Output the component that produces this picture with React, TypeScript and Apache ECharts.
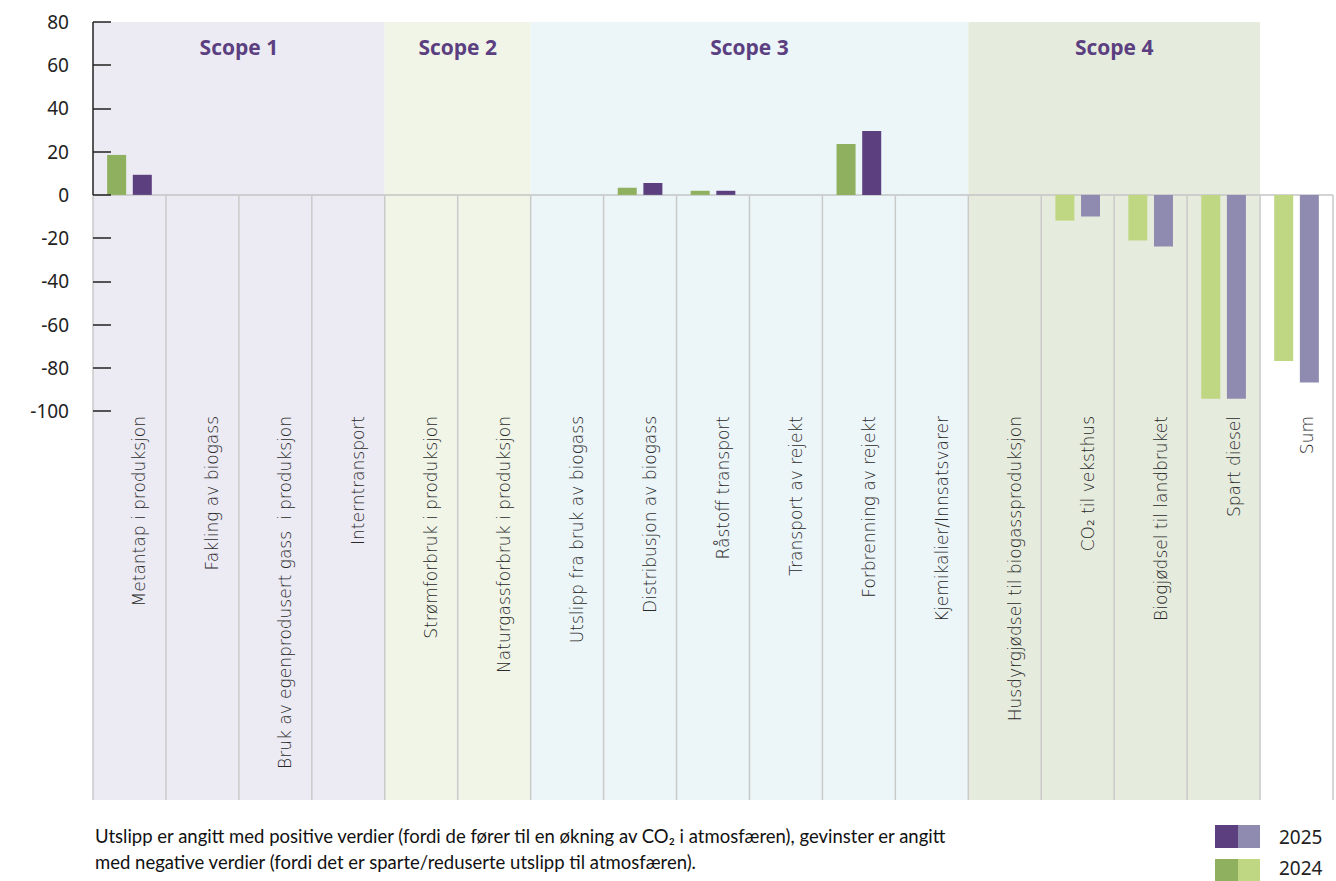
import React, { useEffect, useRef } from "react";
import * as echarts from "echarts";

const categories = [
  "Metantap i produksjon",
  "Fakling av biogass",
  "Bruk av egenprodusert gass  i produksjon",
  "Interntransport",
  "Strømforbruk i produksjon",
  "Naturgassforbruk i produksjon",
  "Utslipp fra bruk av biogass",
  "Distribusjon av biogass",
  "Råstoff transport",
  "Transport av rejekt",
  "Forbrenning av rejekt",
  "Kjemikalier/Innsatsvarer",
  "Husdyrgjødsel til biogassproduksjon",
  "CO₂ til veksthus",
  "Biogjødsel til landbruket",
  "Spart diesel",
  "Sum",
];

const values2024 = [18.5, 0, 0, 0, 0, 0, 0, 3.3, 1.9, 0, 23.6, 0, 0, -11.9, -21.1, -94.3, -76.9];
const values2025 = [9.3, 0, 0, 0, 0, 0, 0, 5.5, 1.9, 0, 29.6, 0, 0, -10.0, -23.9, -94.3, -86.8];

const yTicks = [-100, -80, -60, -40, -20, 0, 20, 40, 60, 80];

const scopeNames = ["Scope 1", "Scope 2", "Scope 3", "Scope 4"];
const scopeStart = [0, 4, 6, 12];
const scopeEnd = [3, 5, 11, 15];
const scopeColors = ["#ecebf4", "#f0f5e8", "#ecf5f8", "#e6ecdd"];

const seriesNames = ["2024", "2025"];
const lightFrom = 12;

const footLine1 =
  "Utslipp er angitt med positive verdier (fordi de fører til en økning av CO₂ i atmosfæren), gevinster er angitt";
const footLine2 = "med negative verdier (fordi det er sparte/reduserte utslipp til atmosfæren).";

const GREEN_DARK = "#8fb05e";
const GREEN_LIGHT = "#bfd683";
const PURPLE_DARK = "#5b3f7e";
const PURPLE_LIGHT = "#8f8ab0";

const NUM_FONT = "Noto Sans";

export default function App() {
  const ref = useRef<HTMLDivElement>(null);

  useEffect(() => {
    const chart = echarts.init(ref.current!, null, { renderer: "svg" });

    const option: any = {
      animation: false,
      grid: { left: 93, right: 3, top: 22, bottom: 81, containLabel: false },
      xAxis: {
        type: "category",
        data: categories,
        axisLine: { show: false },
        axisTick: { show: false },
        axisLabel: { show: false },
        splitLine: { show: false },
      },
      yAxis: {
        type: "value",
        min: -280,
        max: 80,
        interval: 20,
        z: 10,
        axisLine: { show: false },
        splitLine: { show: false },
        axisTick: {
          show: true,
          inside: true,
          length: 18,
          customValues: yTicks,
          lineStyle: { color: "#222", width: 1.5 },
        },
        axisLabel: {
          customValues: yTicks,
          margin: 24,
          fontSize: 19,
          fontFamily: NUM_FONT,
          fontWeight: "normal",
          color: "#222",
        },
      },
      series: [
        {
          type: "custom",
          name: "scopes",
          z: 0,
          silent: true,
          clip: false,
          data: scopeNames.map((n, i) => [scopeStart[i], scopeEnd[i], i]),
          encode: { x: 0, y: 1 },
          renderItem: (params: any, api: any) => {
            const s = api.value(0);
            const e = api.value(1);
            const gi = api.value(2);
            const bw = api.size([1, 0])[0];
            const x0 = api.coord([s, 0])[0] - bw / 2;
            const x1 = api.coord([e, 0])[0] + bw / 2;
            const cs = params.coordSys;
            return {
              type: "group",
              children: [
                {
                  type: "rect",
                  shape: { x: x0, y: cs.y, width: x1 - x0, height: cs.height },
                  style: { fill: scopeColors[gi] },
                },
                {
                  type: "text",
                  x: (x0 + x1) / 2,
                  y: cs.y + 25,
                  style: {
                    text: scopeNames[gi],
                    fill: "#5b3f80",
                    fontSize: 21,
                    fontWeight: "bold",
                    fontFamily: "Open Sans",
                    align: "center",
                    verticalAlign: "middle",
                  },
                },
              ],
            };
          },
        },
        {
          type: "custom",
          name: "separators",
          z: 1,
          silent: true,
          clip: false,
          data: categories.map((c, i) => [i, 0]),
          encode: { x: 0, y: 1 },
          renderItem: (params: any, api: any) => {
            const i = api.value(0);
            const p = api.coord([i, 0]);
            const cx = p[0];
            const y0 = p[1];
            const bw = api.size([1, 0])[0];
            const cs = params.coordSys;
            const yb = cs.y + cs.height;
            const yl = api.coord([i, -100])[1];
            const children: any[] = [
              {
                type: "line",
                shape: { x1: cx - bw / 2, y1: y0, x2: cx - bw / 2, y2: yb },
                style: { stroke: "#cacaca", lineWidth: 1.5 },
              },
              {
                type: "line",
                shape: { x1: cx - bw / 2, y1: y0, x2: cx + bw / 2, y2: y0 },
                style: { stroke: "#c4c4c4", lineWidth: 1.5 },
              },
              {
                type: "text",
                x: cx + 10,
                y: yl + 5,
                rotation: Math.PI / 2,
                style: {
                  text: categories[i],
                  fill: "#2a2a2a",
                  fontSize: 17,
                  fontWeight: 300,
                  fontFamily: "DejaVu Sans",
                  align: "right",
                  verticalAlign: "middle",
                },
              },
            ];
            if (i === categories.length - 1) {
              children.push({
                type: "line",
                shape: { x1: cx + bw / 2, y1: y0, x2: cx + bw / 2, y2: yb },
                style: { stroke: "#cacaca", lineWidth: 1.5 },
              });
            }
            if (i === 0) {
              children.push({
                type: "line",
                shape: { x1: cs.x, y1: cs.y, x2: cs.x, y2: y0 },
                style: { stroke: "#222", lineWidth: 1.5 },
              });
            }
            return { type: "group", children };
          },
        },
        {
          type: "bar",
          name: seriesNames[0],
          z: 3,
          data: values2024,
          barWidth: 19,
          barGap: "35%",
          itemStyle: {
            color: (p: any) => (p.dataIndex >= lightFrom ? GREEN_LIGHT : GREEN_DARK),
          },
        },
        {
          type: "bar",
          name: seriesNames[1],
          z: 3,
          data: values2025,
          barWidth: 19,
          barGap: "35%",
          itemStyle: {
            color: (p: any) => (p.dataIndex >= lightFrom ? PURPLE_LIGHT : PURPLE_DARK),
          },
        },
      ],
      graphic: [
        {
          type: "text",
          x: 95,
          y: 836,
          style: {
            text: footLine1,
            fontFamily: "Lato",
            fontSize: 18.5,
            fill: "#111",
            verticalAlign: "middle",
          },
        },
        {
          type: "text",
          x: 95,
          y: 862,
          style: {
            text: footLine2,
            fontFamily: "Lato",
            fontSize: 18.5,
            fill: "#111",
            verticalAlign: "middle",
          },
        },
        { type: "rect", shape: { x: 1215, y: 825, width: 23, height: 23 }, style: { fill: PURPLE_DARK } },
        { type: "rect", shape: { x: 1238, y: 825, width: 22, height: 23 }, style: { fill: PURPLE_LIGHT } },
        { type: "rect", shape: { x: 1215, y: 859, width: 23, height: 22 }, style: { fill: GREEN_DARK } },
        { type: "rect", shape: { x: 1238, y: 859, width: 22, height: 22 }, style: { fill: GREEN_LIGHT } },
        {
          type: "text",
          x: 1279,
          y: 837,
          style: {
            text: seriesNames[1],
            fontFamily: NUM_FONT,
            fontSize: 19,
            fill: "#222",
            verticalAlign: "middle",
          },
        },
        {
          type: "text",
          x: 1279,
          y: 868,
          style: {
            text: seriesNames[0],
            fontFamily: NUM_FONT,
            fontSize: 19,
            fill: "#222",
            verticalAlign: "middle",
          },
        },
      ],
    };

    chart.setOption(option);
    return () => chart.dispose();
  }, []);

  return (
    <div
      ref={ref}
      style={{ position: "absolute", left: 0, top: 0, width: 1336, height: 881, background: "#fff" }}
    />
  );
}
